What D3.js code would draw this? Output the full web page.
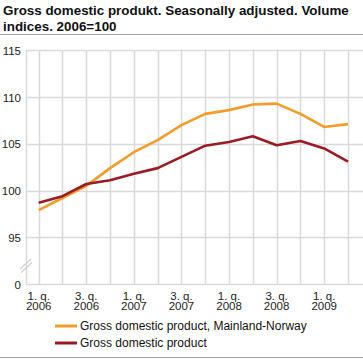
<!DOCTYPE html>
<html><head><meta charset="utf-8">
<script src="https://cdn.jsdelivr.net/npm/d3@7"></script>
<style>
html,body{margin:0;padding:0;background:#fff;}
svg{display:block;font-family:"Liberation Sans",Arial,sans-serif;}
</style></head>
<body>
<svg id="c" width="363" height="359"></svg>
<script>
const titleLines = ["Gross domestic produkt. Seasonally adjusted. Volume", "indices. 2006=100"];
const quarters = ["2006Q1","2006Q2","2006Q3","2006Q4","2007Q1","2007Q2","2007Q3","2007Q4","2008Q1","2008Q2","2008Q3","2008Q4","2009Q1","2009Q2"];
const tickLabels = [["1. q.","2006"],["3. q.","2006"],["1. q.","2007"],["3. q.","2007"],["1. q.","2008"],["3. q.","2008"],["1. q.","2009"]];
const yTicks = [0, 95, 100, 105, 110, 115];
const mainland = [97.9, 99.2, 100.5, 102.4, 104.1, 105.4, 107.0, 108.2, 108.6, 109.2, 109.3, 108.2, 106.8, 107.1];
const gdp = [98.7, 99.4, 100.7, 101.1, 101.8, 102.4, 103.6, 104.8, 105.2, 105.8, 104.85, 105.3, 104.5, 103.1];
const seriesNames = ["Gross domestic product, Mainland-Norway", "Gross domestic product"];
const colors = ["#f39c2a", "#9b1b22"];

const svg = d3.select("#c");
const gridColor = "#d9d9d9";

// title
svg.selectAll("text.title").data(titleLines).join("text")
  .attr("x", 3).attr("y", (d,i) => 15 + i*15.5)
  .attr("font-size", 13.4).attr("font-weight", "bold").attr("fill", "#111")
  .text(d => d);
svg.append("line").attr("x1",0).attr("x2",363).attr("y1",34.5).attr("y2",34.5)
  .attr("stroke","#a0a0a0").attr("stroke-width",1.2);

const x = d3.scalePoint().domain(quarters).range([38.7, 348]);
const y = d3.scaleLinear().domain([0, 95, 115]).range([284, 237.3, 50.3]);
const left = 26, right = 363;

// horizontal grid
svg.append("g").selectAll("line").data(yTicks.filter(t => t > 0)).join("line")
  .attr("x1", left).attr("x2", right)
  .attr("y1", d => Math.round(y(d)) + 0.5).attr("y2", d => Math.round(y(d)) + 0.5)
  .attr("stroke", gridColor).attr("stroke-width", 1.5);
// vertical grid
svg.append("g").selectAll("line").data(quarters).join("line")
  .attr("x1", d => Math.round(x(d)) + 0.5).attr("x2", d => Math.round(x(d)) + 0.5)
  .attr("y1", y(115)).attr("y2", y(0))
  .attr("stroke", gridColor).attr("stroke-width", 1.5);
// axes lines
svg.append("line").attr("x1", left+0.5).attr("x2", left+0.5).attr("y1", y(115)).attr("y2", y(0))
  .attr("stroke", gridColor).attr("stroke-width", 1.5);
svg.append("line").attr("x1", left).attr("x2", right).attr("y1", Math.round(y(0))+0.5).attr("y2", Math.round(y(0))+0.5)
  .attr("stroke", gridColor).attr("stroke-width", 1.5);
// break marks
svg.append("g").selectAll("line").data([0, 3.5]).join("line")
  .attr("x1", d => 20 + d*0.3).attr("y1", d => 269 + d)
  .attr("x2", d => 31 + d*0.3).attr("y2", d => 259 + d)
  .attr("stroke", "#cfcfcf").attr("stroke-width", 1.2);

// y labels
const yAxis = d3.axisLeft(y).tickValues(yTicks).tickSize(0).tickPadding(0);
const gy = svg.append("g").attr("transform", "translate(21,0)").call(yAxis);
gy.select(".domain").remove();
gy.selectAll("text").attr("font-size", 11.5).attr("fill", "#222")
  .attr("font-family", "Liberation Sans, Arial, sans-serif").attr("dy", "0.35em");

// x labels
const xt = svg.append("g").selectAll("text").data(tickLabels).join("text")
  .attr("x", (d,i) => x(quarters[i*2]))
  .attr("text-anchor", "middle").attr("font-size", 11.5).attr("fill", "#222");
xt.selectAll("tspan").data(d => d).join("tspan")
  .attr("x", function(){ return d3.select(this.parentNode).attr("x"); })
  .attr("y", (d,i) => 299.5 + i*10.5).text(d => d);

// lines
const line = d3.line().x((d,i) => x(quarters[i])).y(d => y(d));
[mainland, gdp].forEach((s, k) => {
  svg.append("path").datum(s).attr("d", line).attr("fill", "none")
    .attr("stroke", colors[k]).attr("stroke-width", 2.6).attr("stroke-linejoin", "round");
});

// legend
const lg = svg.append("g").selectAll("g").data(seriesNames).join("g")
  .attr("transform", (d,i) => `translate(0,${326 + i*17})`);
lg.append("line").attr("x1", 55).attr("x2", 77).attr("y1", 0).attr("y2", 0)
  .attr("stroke", (d,i) => colors[i]).attr("stroke-width", 3);
lg.append("text").attr("x", 80).attr("y", 4.3).attr("font-size", 12).attr("fill", "#111").text(d => d);

svg.append("line").attr("x1",0).attr("x2",363).attr("y1",357.5).attr("y2",357.5)
  .attr("stroke","#a0a0a0").attr("stroke-width",1.2);
</script>
</body></html>
